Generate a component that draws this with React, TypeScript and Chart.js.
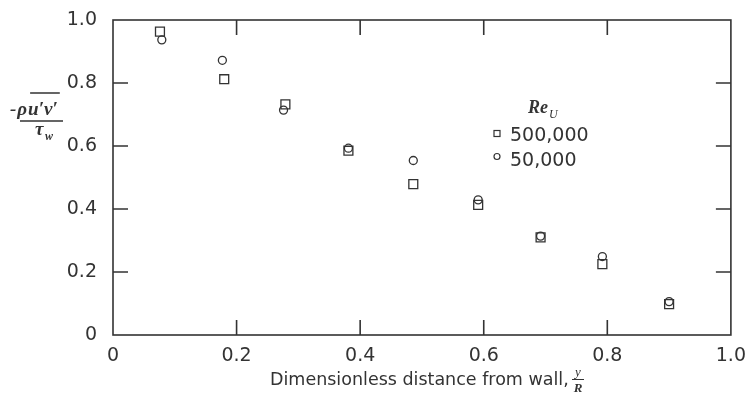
import React, { useEffect, useRef } from "react";
import { Chart, registerables } from "chart.js";

Chart.register(...registerables);

// Re_U = 500,000 (squares)
const xSquare = [0.076, 0.18, 0.279, 0.381, 0.486, 0.591, 0.692, 0.792, 0.9];
const ySquare = [0.963, 0.812, 0.732, 0.585, 0.479, 0.413, 0.31, 0.225, 0.098];
// Re_U = 50,000 (circles)
const xCircle = [0.079, 0.177, 0.276, 0.381, 0.486, 0.591, 0.692, 0.792, 0.9];
const yCircle = [0.937, 0.872, 0.714, 0.593, 0.554, 0.429, 0.314, 0.249, 0.106];

const xTicks = [0, 0.2, 0.4, 0.6, 0.8, 1.0];
const yTicks = [0, 0.2, 0.4, 0.6, 0.8, 1.0];
const innerTicks = [0.2, 0.4, 0.6, 0.8];
const legendTitle = "Re";
const legendSub = "U";
const seriesLabels = ["500,000", "50,000"];
const xTitle = "Dimensionless distance from wall,";

const INK = "#333";
const SANS = '"DejaVu Sans", sans-serif';
const SERIF = '"Liberation Serif", "DejaVu Serif", serif';

const fmt = (v: number) => (v === 0 ? "0" : v.toFixed(1));

const decorPlugin = {
  id: "decor",
  afterDraw(chart: any) {
    const ctx = chart.ctx as CanvasRenderingContext2D;
    const { left, right, top, bottom } = chart.chartArea;
    const xs = chart.scales.x;
    const ys = chart.scales.y;
    ctx.save();
    ctx.strokeStyle = INK;
    ctx.lineWidth = 1.6;
    ctx.strokeRect(left, top, right - left, bottom - top);
    const tl = 15;
    ctx.beginPath();
    innerTicks.forEach((v) => {
      const px = xs.getPixelForValue(v);
      const py = ys.getPixelForValue(v);
      ctx.moveTo(px, bottom);
      ctx.lineTo(px, bottom - tl);
      ctx.moveTo(px, top);
      ctx.lineTo(px, top + tl);
      ctx.moveTo(left, py);
      ctx.lineTo(left + tl, py);
      ctx.moveTo(right, py);
      ctx.lineTo(right - tl, py);
    });
    ctx.stroke();

    // Y axis title: -rho u'v' (overlined) / tau_w
    ctx.fillStyle = INK;
    ctx.textBaseline = "alphabetic";
    ctx.textAlign = "left";
    ctx.font = `italic bold 19px ${SERIF}`;
    let x = 10;
    const yb = 115;
    ctx.fillText("-", x, yb);
    x += ctx.measureText("-").width + 1;
    ctx.fillText("ρ", x, yb);
    x += ctx.measureText("ρ").width + 1;
    const ovStart = x;
    ctx.fillText("u′v′", x, yb);
    x += ctx.measureText("u′v′").width;
    ctx.lineWidth = 1.3;
    ctx.beginPath();
    ctx.moveTo(ovStart + 2, 93);
    ctx.lineTo(x + 2, 93);
    ctx.moveTo(20, 121);
    ctx.lineTo(63, 121);
    ctx.stroke();
    ctx.fillText("τ", 35, 135);
    ctx.font = `italic bold 12px ${SERIF}`;
    ctx.fillText("w", 45, 140);

    // X axis title
    ctx.font = `17.5px ${SANS}`;
    ctx.fillText(xTitle, 270, 385);
    ctx.font = `italic 13px ${SERIF}`;
    ctx.textAlign = "center";
    ctx.fillText("y", 578, 376);
    ctx.font = `italic bold 13px ${SERIF}`;
    ctx.fillText("R", 578, 392);
    ctx.beginPath();
    ctx.lineWidth = 1;
    ctx.moveTo(572, 379.5);
    ctx.lineTo(584, 379.5);
    ctx.stroke();

    // Legend
    ctx.textAlign = "left";
    ctx.font = `italic bold 18px ${SERIF}`;
    ctx.fillText(legendTitle, 528, 113);
    const rw = ctx.measureText(legendTitle).width;
    ctx.font = `italic 12px ${SERIF}`;
    ctx.fillText(legendSub, 528 + rw + 1, 118);
    ctx.lineWidth = 1.2;
    ctx.strokeRect(494, 130.5, 6, 6);
    ctx.beginPath();
    ctx.arc(497, 156.5, 3, 0, Math.PI * 2);
    ctx.stroke();
    ctx.font = `19px ${SANS}`;
    ctx.fillText(seriesLabels[0], 510, 141);
    ctx.fillText(seriesLabels[1], 510, 166);
    ctx.restore();
  },
};

export default function App() {
  const ref = useRef<HTMLCanvasElement | null>(null);
  useEffect(() => {
    document.body.style.margin = "0";
    const canvas = ref.current!;
    const chart = new Chart(canvas, {
      type: "scatter",
      data: {
        datasets: [
          {
            label: seriesLabels[0],
            data: xSquare.map((x, i) => ({ x, y: ySquare[i] })),
            pointStyle: "rect",
            pointRadius: 6.3,
            borderColor: INK,
            backgroundColor: "rgba(0,0,0,0)",
            borderWidth: 1.3,
          },
          {
            label: seriesLabels[1],
            data: xCircle.map((x, i) => ({ x, y: yCircle[i] })),
            pointStyle: "circle",
            pointRadius: 4,
            borderColor: INK,
            backgroundColor: "rgba(0,0,0,0)",
            borderWidth: 1.3,
          },
        ],
      },
      options: {
        responsive: false,
        animation: false,
        devicePixelRatio: 1,
        layout: { padding: { top: 20, right: 17, left: 0, bottom: 0 } },
        plugins: { legend: { display: false }, tooltip: { enabled: false } },
        scales: {
          x: {
            type: "linear",
            min: 0,
            max: 1,
            afterBuildTicks: (s: any) => {
              s.ticks = xTicks.map((v) => ({ value: v }));
            },
            afterFit: (s: any) => {
              s.height = 58;
            },
            ticks: {
              callback: (v: any) => fmt(Number(v)),
              font: { family: SANS, size: 19 },
              color: INK,
              padding: 2,
              maxRotation: 0,
            },
            grid: { display: false },
            border: { display: false },
          },
          y: {
            type: "linear",
            min: 0,
            max: 1,
            afterBuildTicks: (s: any) => {
              s.ticks = yTicks.map((v) => ({ value: v }));
            },
            afterFit: (s: any) => {
              s.width = 113;
            },
            ticks: {
              callback: (v: any) => fmt(Number(v)),
              font: { family: SANS, size: 19 },
              color: INK,
              padding: 8,
            },
            grid: { display: false },
            border: { display: false },
          },
        },
      },
      plugins: [decorPlugin],
    });
    return () => chart.destroy();
  }, []);
  return <canvas ref={ref} width={748} height={393} style={{ display: "block" }} />;
}
